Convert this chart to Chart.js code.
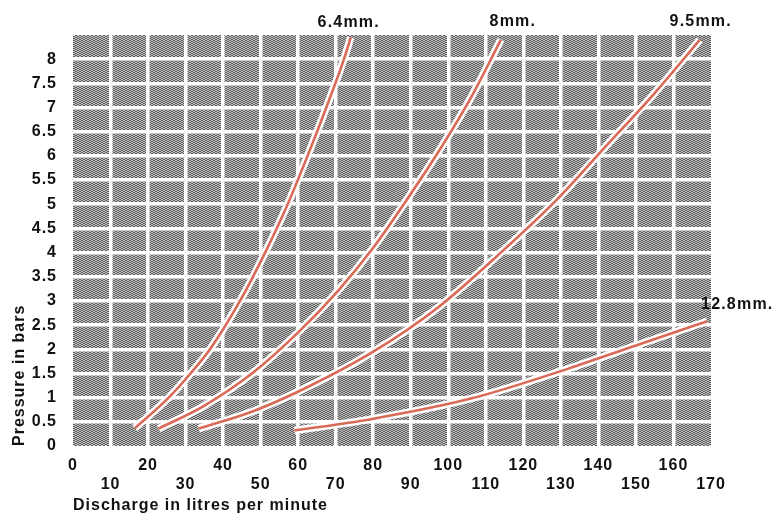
<!DOCTYPE html>
<html lang="en">
<head>
  <meta charset="UTF-8">
  <title>Pressure vs Discharge</title>
  <script src="https://cdn.jsdelivr.net/npm/chart.js"></script>
  <style>
    body {
      margin: 0;
      padding: 0;
      background-color: #fff;
    }
    canvas {
      display: block;
    }
  </style>
</head>
<body>
  <canvas id="nozzleChart" width="777" height="515"></canvas>

  <script>
    // nozzle sizes (one curve each)
    const nozzleNames = ['6.4mm.', '8mm.', '9.5mm.', '12.8mm.'];

    // discharge (litres/min) and pressure (bars)
    const flow64 = [16.5, 25.5, 31.3, 36.5, 44.5, 51.2, 57.2, 62.5, 67.5, 72.2, 74];
    const pres64 = [0.37, 1, 1.5, 2, 3, 4, 5, 6, 7, 8, 8.45];

    const flow80 = [22.8, 34.7, 48, 60, 70.5, 80, 89, 97.5, 106, 114];
    const pres80 = [0.36, 0.82, 1.52, 2.35, 3.2, 4.1, 5.1, 6.1, 7.2, 8.4];

    const flow95 = [33.5, 48, 62, 80, 97, 114, 129, 142, 155, 167];
    const pres95 = [0.36, 0.72, 1.2, 1.95, 2.85, 4.0, 5.1, 6.2, 7.3, 8.4];

    const flow128 = [59, 79, 106, 132, 150, 169];
    const pres128 = [0.32, 0.55, 0.98, 1.6, 2.08, 2.58];

    // axis ticks
    const xTicks = [0, 10, 20, 30, 40, 50, 60, 70, 80, 90, 100, 110, 120, 130, 140, 150, 160, 170];
    const yTicks = [0, 0.5, 1, 1.5, 2, 2.5, 3, 3.5, 4, 4.5, 5, 5.5, 6, 6.5, 7, 7.5, 8];

    const FONT = 'Liberation Sans, Arial, Helvetica, sans-serif';
    const RED = '#d96a58';

    function toPoints(xs, ys) {
      return xs.map((x, i) => ({ x: x, y: ys[i] }));
    }

    const curves = [
      toPoints(flow64, pres64),
      toPoints(flow80, pres80),
      toPoints(flow95, pres95),
      toPoints(flow128, pres128)
    ];

    // each curve drawn twice: wide white halo under a thin red line
    const datasets = [];
    curves.forEach((pts, i) => {
      datasets.push({
        label: nozzleNames[i] + ' halo',
        data: pts,
        borderColor: '#ffffff',
        borderWidth: 7.5,
        pointRadius: 0,
        cubicInterpolationMode: 'monotone',
        order: 2
      });
    });
    curves.forEach((pts, i) => {
      datasets.push({
        label: nozzleNames[i],
        data: pts,
        borderColor: RED,
        borderWidth: 2.6,
        pointRadius: 0,
        cubicInterpolationMode: 'monotone',
        order: 1
      });
    });

    // hatched grey background behind the white grid
    const hatchPlugin = {
      id: 'hatch',
      beforeDraw(chart) {
        const { ctx, chartArea: a } = chart;
        ctx.save();
        ctx.beginPath();
        ctx.rect(a.left, a.top, a.right - a.left, a.bottom - a.top);
        ctx.clip();
        ctx.fillStyle = '#f2f2f2';
        ctx.fillRect(a.left, a.top, a.right - a.left, a.bottom - a.top);
        ctx.strokeStyle = '#2e2e2e';
        ctx.lineWidth = 1;
        const h = a.bottom - a.top;
        const run = h / 0.5;
        ctx.beginPath();
        for (let x = Math.floor(a.left - run); x < a.right + 4; x += 4) {
          ctx.moveTo(x, a.top);
          ctx.lineTo(x + run, a.bottom);
        }
        ctx.stroke();
        ctx.restore();
        // wider letters like the printed original
        chart.ctx.letterSpacing = '1px';
      }
    };

    // size labels near the end of each curve
    const curveLabelPlugin = {
      id: 'curveLabels',
      afterDatasetsDraw(chart) {
        const { ctx, scales } = chart;
        const offsets = [[-2, -15], [12, -18], [1, -18], [30, -17]];
        ctx.save();
        ctx.font = 'bold 16px ' + FONT;
        ctx.letterSpacing = '1.2px';
        ctx.fillStyle = '#111';
        ctx.textAlign = 'center';
        ctx.textBaseline = 'middle';
        curves.forEach((pts, i) => {
          const last = pts[pts.length - 1];
          const px = scales.x.getPixelForValue(last.x) + offsets[i][0];
          const py = scales.y.getPixelForValue(last.y) + offsets[i][1];
          ctx.fillText(nozzleNames[i], px, py);
        });
        ctx.restore();
      }
    };

    const ctx = document.getElementById('nozzleChart').getContext('2d');
    const chart = new Chart(ctx, {
      type: 'line',
      data: { datasets: datasets },
      options: {
        responsive: false,
        animation: false,
        layout: { padding: { top: 35, right: 66, left: 0, bottom: 0 } },
        plugins: {
          legend: { display: false },
          tooltip: { enabled: false }
        },
        scales: {
          x: {
            type: 'linear',
            min: 0,
            max: 170,
            afterFit(scale) { scale.height = 69; },
            afterBuildTicks(scale) { scale.ticks = xTicks.map(v => ({ value: v })); },
            border: { display: false },
            grid: {
              drawTicks: false,
              lineWidth: 3.5,
              color: c => (c.tick && (c.tick.value === 0 || c.tick.value === 170)) ? 'rgba(0,0,0,0)' : '#ffffff'
            },
            ticks: {
              padding: 10,
              maxRotation: 0,
              autoSkip: false,
              color: '#111',
              font: { family: FONT, size: 16, weight: 'bold' },
              callback: (v, i) => (i % 2 === 1 ? ['', String(xTicks[i])] : String(xTicks[i]))
            },
            title: {
              display: true,
              text: 'Discharge in litres per minute',
              align: 'start',
              color: '#111',
              font: { family: FONT, size: 16, weight: 'bold' },
              padding: { top: 0, bottom: 0 }
            }
          },
          y: {
            type: 'linear',
            min: 0,
            max: 8.5,
            afterFit(scale) { scale.width = 73; },
            afterBuildTicks(scale) { scale.ticks = yTicks.map(v => ({ value: v })); },
            border: { display: false },
            grid: {
              drawTicks: false,
              lineWidth: 3.5,
              color: c => (c.tick && c.tick.value === 0) ? 'rgba(0,0,0,0)' : '#ffffff'
            },
            ticks: {
              padding: 16,
              autoSkip: false,
              color: '#111',
              font: { family: FONT, size: 16, weight: 'bold' },
              callback: (v, i) => String(yTicks[i])
            },
            title: {
              display: true,
              text: 'Pressure in bars',
              align: 'start',
              color: '#111',
              font: { family: FONT, size: 16, weight: 'bold' },
              padding: { top: 10, bottom: 0 }
            }
          }
        }
      },
      plugins: [hatchPlugin, curveLabelPlugin]
    });
  </script>
</body>
</html>
